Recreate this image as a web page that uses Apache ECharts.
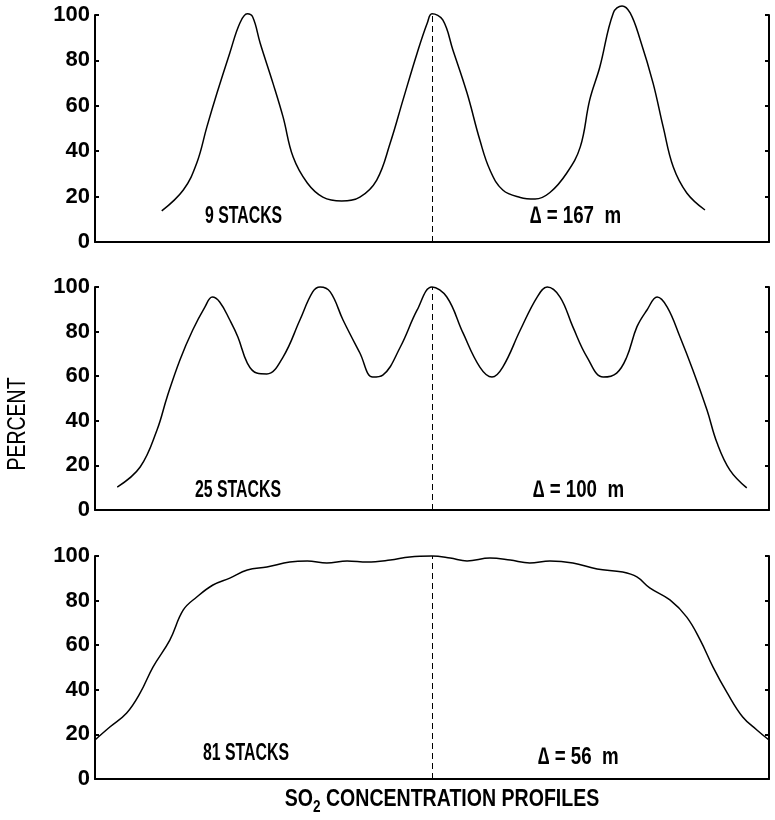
<!DOCTYPE html>
<html>
<head>
<meta charset="utf-8">
<script src="https://cdn.jsdelivr.net/npm/echarts@6/dist/echarts.min.js"></script>
<style>
html, body { margin: 0; padding: 0; background: #fff; }
#main { width: 775px; height: 820px; }
</style>
</head>
<body>
<div id="main"></div>
<script>
// 9 stacks, delta = 167 m
var x9 = [9.9, 13.1, 15.1, 16.6, 18.1, 20.0, 21.5, 22.6, 23.4, 24.5, 26.4, 27.9, 29.4, 31.5, 33.8, 36.6, 39.3, 41.8, 43.8, 45.7, 47.8, 49.3, 50.0, 51.6, 53.1, 55.2, 57.1, 58.6, 60.5, 63.1, 65.3, 67.5, 70.0, 72.0, 73.4, 74.9, 76.9, 78.2, 79.4, 80.9, 82.8, 84.3, 85.8, 87.8, 90.5];
var y9 = [13.7, 22.9, 34.8, 50.7, 65.6, 83.3, 96.5, 100.5, 99.1, 87.7, 70.0, 55.1, 37.4, 26.0, 19.8, 18.1, 19.8, 27.3, 43.6, 62.6, 83.3, 96.5, 100.5, 97.8, 84.6, 65.6, 44.9, 31.7, 22.9, 19.6, 18.9, 21.8, 30.4, 41.9, 62.6, 77.1, 100.9, 104, 100.9, 89.0, 70.0, 50.7, 33.0, 21.6, 14.1];

// 25 stacks, delta = 100 m
var x25 = [3.3, 6.7, 9.2, 10.7, 12.6, 14.5, 16.3, 17.4, 18.5, 20.0, 21.2, 22.6, 24.0, 25.5, 27.9, 30.4, 32.3, 33.4, 34.9, 36.8, 39.3, 41.2, 42.7, 45.3, 47.8, 50.0, 52.2, 54.6, 57.1, 58.9, 60.5, 63.1, 65.6, 67.1, 69.0, 70.9, 73.0, 75.4, 77.4, 78.9, 80.4, 81.9, 83.4, 84.9, 86.8, 88.7, 90.8, 92.3, 94.2, 96.7];
var y25 = [10.3, 19.3, 35.9, 50.7, 67.3, 80.7, 91.0, 95.5, 93.3, 85.2, 77.6, 65.9, 61.4, 61.0, 68.6, 85.2, 97.8, 100, 97.8, 85.2, 70.4, 59.6, 60.5, 73.1, 89.7, 100, 95.5, 79.4, 64.1, 59.6, 64.1, 80.7, 95.5, 100, 95.5, 82.1, 68.6, 59.6, 61.4, 68.6, 82.1, 89.7, 95.5, 91.0, 77.6, 62.8, 44.8, 30.0, 17.9, 9.9];

// 81 stacks, delta = 56 m
var x81 = [0, 2.2, 4.7, 6.7, 8.6, 11.1, 13.1, 15.1, 17.5, 20.0, 22.6, 25.5, 28.9, 31.5, 34.4, 37.4, 40.4, 43.8, 46.7, 50.0, 52.7, 55.2, 58.6, 61.6, 64.5, 67.5, 70.9, 74.5, 78.3, 80.4, 82.3, 85.3, 87.8, 89.8, 91.7, 93.8, 96.1, 98.2, 100];
var y81 = [17.5, 23.3, 29.6, 38.6, 50.2, 62.3, 75.8, 81.6, 87.0, 90.1, 93.7, 95.1, 97.3, 97.8, 96.9, 97.8, 97.3, 98.2, 99.6, 100, 99.1, 97.8, 99.1, 98.2, 96.9, 97.8, 96.9, 94.2, 92.8, 90.6, 85.7, 80.3, 72.6, 62.3, 50.2, 38.6, 27.8, 22.0, 17.5];

var panelLabels = ['9 STACKS', '25 STACKS', '81 STACKS'];
var deltaLabels = ['\u2206 = 167  m', '\u2206 = 100  m', '\u2206 = 56  m'];
var centerX = 50;

var FONT = '"Liberation Sans", Arial, sans-serif';

function pairs(xs, ys) {
    var out = [];
    for (var i = 0; i < xs.length; i++) {
        out.push([xs[i], ys[i]]);
    }
    return out;
}

var grids = [
    { left: 95, top: 15, width: 674, height: 227 },
    { left: 95, top: 287, width: 674, height: 223 },
    { left: 95, top: 556, width: 674, height: 223 }
];

var xAxes = [], yAxes = [], series = [];
var curves = [pairs(x9, y9), pairs(x25, y25), pairs(x81, y81)];

for (var i = 0; i < 3; i++) {
    xAxes.push({
        type: 'value', gridIndex: i, min: 0, max: 100,
        axisLine: { show: true, lineStyle: { color: '#000', width: 2 } },
        axisTick: { show: false },
        axisLabel: { show: false },
        splitLine: { show: false }
    });
    // left axis with labels
    yAxes.push({
        type: 'value', gridIndex: i, position: 'left', min: 0, max: 100, interval: 20,
        axisLine: { show: true, lineStyle: { color: '#000', width: 2 } },
        axisTick: { show: true, inside: true, length: 4, lineStyle: { color: '#000', width: 2 } },
        axisLabel: { color: '#000', fontSize: 22, fontWeight: 'bold', fontFamily: FONT, margin: 5 },
        splitLine: { show: false }
    });
    // right axis, ticks only
    yAxes.push({
        type: 'value', gridIndex: i, position: 'right', min: 0, max: 100, interval: 20,
        axisLine: { show: true, lineStyle: { color: '#000', width: 2 } },
        axisTick: { show: true, inside: true, length: 4, lineStyle: { color: '#000', width: 2 } },
        axisLabel: { show: false },
        splitLine: { show: false }
    });
    series.push({
        type: 'line',
        xAxisIndex: i,
        yAxisIndex: i * 2,
        data: curves[i],
        smooth: 0.4,
        showSymbol: false,
        clip: false,
        lineStyle: { color: '#000', width: 1.5 },
        markLine: {
            silent: true,
            symbol: 'none',
            label: { show: false },
            lineStyle: { color: '#000', width: 1, type: [6, 4] },
            data: [[{ coord: [centerX, 0] }, { coord: [centerX, 100] }]]
        }
    });
}

var labelPos = [[205, 216, 530, 216], [195, 490, 533, 490], [203, 753, 538, 757]];
var graphics = [];
for (var j = 0; j < 3; j++) {
    graphics.push({ type: 'text', x: labelPos[j][0], y: labelPos[j][1], scaleX: 0.66,
        style: { text: panelLabels[j], align: 'left', verticalAlign: 'middle',
            fontSize: 24, fontWeight: 'bold', fontFamily: FONT, fill: '#000' } });
    graphics.push({ type: 'text', x: labelPos[j][2], y: labelPos[j][3], scaleX: 0.78,
        style: { text: deltaLabels[j], align: 'left', verticalAlign: 'middle',
            fontSize: 24, fontWeight: 'bold', fontFamily: FONT, fill: '#000' } });
}
graphics.push({
    type: 'text', x: 18, y: 424, rotation: Math.PI / 2, scaleX: 0.78,
    style: { text: 'PERCENT', fontSize: 25, fontFamily: FONT, fill: '#000', align: 'center', verticalAlign: 'middle' }
});
graphics.push({
    type: 'text', x: 442, y: 800, scaleX: 0.85,
    style: {
        text: '{a|SO}{b|2}{a| CONCENTRATION PROFILES}',
        align: 'center', verticalAlign: 'middle',
        rich: {
            a: { fontSize: 23, fontWeight: 'bold', fontFamily: FONT, fill: '#000', lineHeight: 32, verticalAlign: 'middle' },
            b: { fontSize: 16, fontWeight: 'bold', fontFamily: FONT, fill: '#000', lineHeight: 32, verticalAlign: 'bottom' }
        }
    }
});

var chart = echarts.init(document.getElementById('main'));
chart.setOption({
    backgroundColor: '#fff',
    animation: false,
    grid: grids,
    xAxis: xAxes,
    yAxis: yAxes,
    series: series,
    graphic: graphics
});
</script>
</body>
</html>
